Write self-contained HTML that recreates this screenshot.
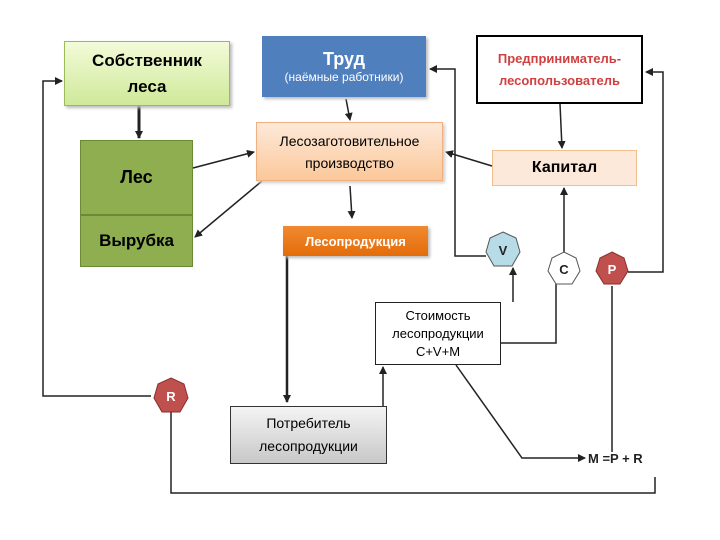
<!DOCTYPE html>
<html><head><meta charset="utf-8"><style>
body{margin:0;width:720px;height:540px;background:#fff;position:relative;overflow:hidden;font-family:"Liberation Sans","DejaVu Sans",sans-serif}
.b{position:absolute;box-sizing:border-box;display:flex;flex-direction:column;align-items:center;justify-content:center;text-align:center}
</style></head><body>
<svg width="720" height="540" style="position:absolute;left:0;top:0">
<defs><marker id="a" markerWidth="8" markerHeight="8" refX="7" refY="4" orient="auto" markerUnits="userSpaceOnUse"><path d="M0,0 L8,4 L0,8 z" fill="#222"/></marker></defs>
<g stroke="#222" stroke-width="1.5" fill="none">
<polyline points="151,396 43,396 43,81 62,81" marker-end="url(#a)"/>
<polyline points="171,412 171,493 655,493 655,477"/>
<line x1="139" y1="106" x2="139" y2="138" stroke-width="3" marker-end="url(#a)"/>
<line x1="193" y1="168" x2="254" y2="152" marker-end="url(#a)"/>
<line x1="262" y1="181" x2="195" y2="237" marker-end="url(#a)"/>
<line x1="346" y1="99" x2="350" y2="120" marker-end="url(#a)"/>
<line x1="350" y1="186" x2="352" y2="218" marker-end="url(#a)"/>
<polyline points="287,256 287,402" stroke-width="2.5" marker-end="url(#a)"/>
<line x1="383" y1="406" x2="383" y2="367" marker-end="url(#a)"/>
<polyline points="456,365 522,458 585,458" marker-end="url(#a)"/>
<polyline points="501,343 556,343 556,284"/>
<line x1="513" y1="302" x2="513" y2="268" marker-end="url(#a)"/>
<polyline points="486,256 455,256 455,69 430,69" marker-end="url(#a)"/>
<line x1="564" y1="252" x2="564" y2="188" marker-end="url(#a)"/>
<line x1="492" y1="166" x2="446" y2="152" marker-end="url(#a)"/>
<line x1="560" y1="104" x2="562" y2="148" marker-end="url(#a)"/>
<polyline points="628,272 663,272 663,72 646,72" marker-end="url(#a)"/>
<line x1="612" y1="286" x2="612" y2="452"/>
</g>
<g stroke="#555" stroke-width="1">
<polygon points="503,232 516,238 520,252 512,266 494,266 486,252 490,238" fill="#b8dbe8"/>
<polygon points="564,252 576,258 580,271 572,284 556,284 548,271 552,258" fill="#fff"/>
<polygon points="612,252 624,258 628,271 620,284 604,284 596,271 600,258" fill="#c0504d" stroke="#8b2e2b"/>
<polygon points="171,378 184,384 188,398 180,412 162,412 154,398 158,384" fill="#c0504d" stroke="#8b2e2b"/>
</g>
<g font-family="Liberation Sans,sans-serif" font-weight="bold" font-size="13" text-anchor="middle">
<text x="503" y="255" fill="#222">V</text>
<text x="564" y="274" fill="#222">C</text>
<text x="612" y="274" fill="#fff">P</text>
<text x="171" y="401" fill="#fff">R</text>
</g>
<text x="588" y="463" font-size="13" font-weight="bold" fill="#222" font-family="Liberation Sans,sans-serif">M =P + R</text>
</svg>
<div class="b" style="left:64px;top:41px;width:166px;height:65px;background:linear-gradient(#f3fbd9,#cfe99a);border:1px solid #9bbb59;font-weight:bold;font-size:17px;line-height:26px;box-shadow:2px 2px 3px #bbb">Собственник<br>леса</div>
<div class="b" style="left:80px;top:140px;width:113px;height:75px;background:#8fae4f;border:1px solid #6a8a35;font-weight:bold;font-size:18px">Лес</div>
<div class="b" style="left:80px;top:215px;width:113px;height:52px;background:#8fae4f;border:1px solid #6a8a35;font-weight:bold;font-size:17px">Вырубка</div>
<div class="b" style="left:262px;top:36px;width:164px;height:61px;background:#4f7fbd;color:#fff;box-shadow:2px 2px 3px #bbb"><span style="font-size:18px;font-weight:bold">Труд</span><span style="font-size:12px">(наёмные работники)</span></div>
<div class="b" style="left:256px;top:122px;width:187px;height:59px;background:linear-gradient(#fde9d9,#fbc89a);border:1px solid #f0b080;font-size:14px;line-height:22px;box-shadow:2px 2px 3px #ccc">Лесозаготовительное<br>производство</div>
<div class="b" style="left:283px;top:226px;width:145px;height:30px;background:linear-gradient(#f08a30,#e46c0a);color:#fff;font-weight:bold;font-size:13px;box-shadow:2px 2px 3px #bbb">Лесопродукция</div>
<div class="b" style="left:476px;top:35px;width:167px;height:69px;border:2px solid #000;background:#fff;color:#d04040;font-weight:bold;font-size:13px;line-height:22px">Предприниматель-<br>лесопользователь</div>
<div class="b" style="left:492px;top:150px;width:145px;height:36px;background:#fde9d9;border:1px solid #f0c090;font-weight:bold;font-size:16px">Капитал</div>
<div class="b" style="left:375px;top:302px;width:126px;height:63px;background:#fff;border:1.5px solid #222;font-size:13px;line-height:18px">Стоимость<br>лесопродукции<br>C+V+M</div>
<div class="b" style="left:230px;top:406px;width:157px;height:58px;background:linear-gradient(#f4f4f4,#c8c8c8);border:1.5px solid #333;font-size:14px;line-height:23px">Потребитель<br>лесопродукции</div>
</body></html>
